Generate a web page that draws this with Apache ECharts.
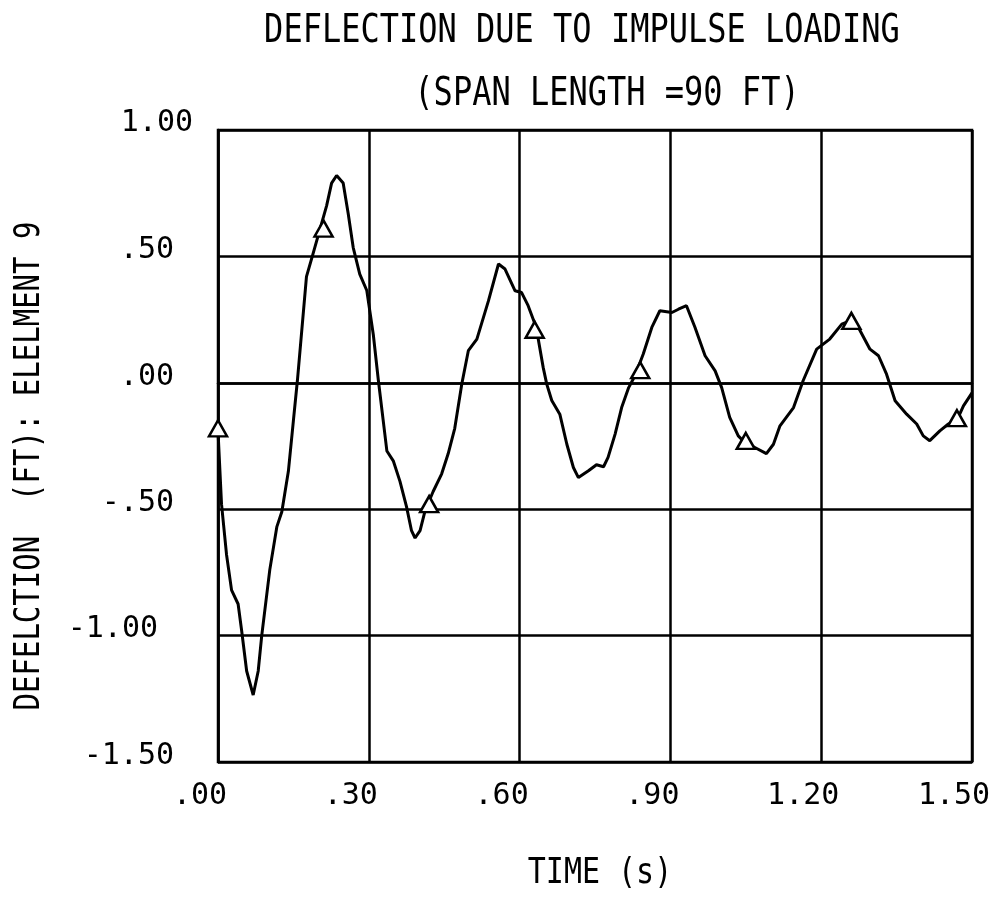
<!DOCTYPE html>
<html>
<head>
<meta charset="utf-8">
<script src="https://cdn.jsdelivr.net/npm/echarts@6/dist/echarts.min.js"></script>
<style>
  html, body { margin: 0; padding: 0; background: #ffffff; }
  #chart { width: 1005px; height: 901px; }
</style>
</head>
<body>
<div id="chart"></div>
<script>
// Mid-span deflection of element 9 after an impulse load (span 90 ft)
const timeS = [
  0.000, 0.007, 0.017, 0.027, 0.040, 0.047, 0.057, 0.070, 0.080, 0.087,
  0.103, 0.117, 0.127, 0.140, 0.150, 0.158, 0.176, 0.189, 0.216, 0.226,
  0.236, 0.249, 0.259, 0.269, 0.282, 0.296, 0.309, 0.319, 0.336, 0.349,
  0.362, 0.375, 0.385, 0.392, 0.402, 0.412, 0.428, 0.445, 0.458, 0.471,
  0.485, 0.498, 0.515, 0.538, 0.558, 0.571, 0.591, 0.604, 0.617, 0.633,
  0.647, 0.654, 0.664, 0.680, 0.694, 0.707, 0.717, 0.737, 0.753, 0.767,
  0.776, 0.790, 0.803, 0.817, 0.830, 0.846, 0.863, 0.879, 0.903, 0.916,
  0.932, 0.949, 0.969, 0.989, 1.002, 1.018, 1.035, 1.048, 1.068, 1.091,
  1.105, 1.118, 1.145, 1.164, 1.191, 1.217, 1.241, 1.257, 1.274, 1.297,
  1.314, 1.330, 1.347, 1.370, 1.390, 1.403, 1.416, 1.436, 1.453, 1.471,
  1.483, 1.500
];
const deflectionFt = [
  -0.19, -0.48, -0.68, -0.82, -0.875, -0.98, -1.14, -1.235, -1.14, -1.00,
  -0.74, -0.57, -0.51, -0.35, -0.15, 0.01, 0.42, 0.51, 0.70, 0.79,
  0.82, 0.79, 0.67, 0.535, 0.43, 0.365, 0.19, 0.01, -0.27, -0.31,
  -0.39, -0.49, -0.585, -0.614, -0.585, -0.506, -0.43, -0.36, -0.28, -0.18,
  -0.005, 0.127, 0.173, 0.324, 0.47, 0.45, 0.364, 0.357, 0.305, 0.22,
  0.06, -0.005, -0.07, -0.124, -0.243, -0.335, -0.375, -0.348, -0.324, -0.332,
  -0.295, -0.203, -0.098, -0.019, 0.03, 0.114, 0.219, 0.285, 0.278, 0.291,
  0.305, 0.219, 0.107, 0.047, -0.019, -0.137, -0.21, -0.236, -0.256, -0.28,
  -0.243, -0.17, -0.098, 0.008, 0.133, 0.173, 0.232, 0.245, 0.219, 0.133,
  0.107, 0.034, -0.071, -0.124, -0.163, -0.21, -0.229, -0.19, -0.163, -0.144,
  -0.091, -0.04
];
// Plot symbols placed every 0.21 s along the trace
const markerTime = [0.00, 0.21, 0.42, 0.63, 0.84, 1.05, 1.26, 1.47];
const markerDefl = [-0.18, 0.61, -0.48, 0.21, 0.05, -0.23, 0.245, -0.14];

const xTicks = { min: 0, max: 1.5, step: 0.3 };
const yTicks = { min: -1.5, max: 1.0, step: 0.5 };

const titleText = 'DEFLECTION DUE TO IMPULSE LOADING';
const subtitleText = '(SPAN LENGTH =90 FT)';
const xName = 'TIME (s)';
const yName = 'DEFELCTION  (FT): ELELMENT 9';

const FONT = '"DejaVu Sans Mono", "Liberation Mono", monospace';
const INK = '#000000';

// plotter-style numbers: no leading zero (".50", "-.50", "1.00")
function plotterNum(v) {
  return v.toFixed(2).replace(/^(-?)0\./, '$1.');
}

const linePoints = timeS.map((t, i) => [t, deflectionFt[i]]);
const markerPoints = markerTime.map((t, i) => [t, markerDefl[i]]);

const labelFont = { fontFamily: FONT, fontSize: 30, color: INK };

const chart = echarts.init(document.getElementById('chart'), null, { renderer: 'canvas' });

chart.setOption({
  backgroundColor: '#ffffff',
  animation: false,
  grid: {
    left: 218, right: 33, top: 130, bottom: 139,
    show: true, borderColor: INK, borderWidth: 2.5, backgroundColor: 'transparent'
  },
  xAxis: {
    type: 'value',
    min: xTicks.min, max: xTicks.max, interval: xTicks.step,
    axisLine: { show: true, lineStyle: { color: INK, width: 2.5 } },
    axisTick: { show: false },
    splitLine: { show: true, lineStyle: { color: INK, width: 2.5 } },
    axisLabel: Object.assign({}, labelFont, {
      margin: 19,
      padding: [0, 36, 0, 0],
      formatter: plotterNum
    })
  },
  yAxis: {
    type: 'value',
    min: yTicks.min, max: yTicks.max, interval: yTicks.step,
    axisLine: { show: true, lineStyle: { color: INK, width: 2.5 } },
    axisTick: { show: false },
    splitLine: { show: true, lineStyle: { color: INK, width: 2.5 } },
    axisLabel: Object.assign({}, labelFont, {
      margin: 25,
      formatter: function (v) {
        const key = v === 1 ? 'top' : (v === -1 ? 'far' : 'mid');
        return '{' + key + '|' + plotterNum(v) + '}';
      },
      rich: {
        top: Object.assign({}, labelFont, { padding: [0, 0, 14, 0] }),
        mid: Object.assign({}, labelFont, { padding: [0, 19, 12, 0] }),
        far: Object.assign({}, labelFont, { padding: [0, 35, 12, 0] })
      }
    })
  },
  graphic: [
    { type: 'text', x: 582, y: 32, scaleY: 1.2,
      style: { text: titleText, font: '32px ' + FONT, fill: INK,
               align: 'center', verticalAlign: 'middle' } },
    { type: 'text', x: 607, y: 95, scaleY: 1.2,
      style: { text: subtitleText, font: '32px ' + FONT, fill: INK,
               align: 'center', verticalAlign: 'middle' } },
    { type: 'text', x: 600, y: 874, scaleY: 1.2,
      style: { text: xName, font: '30px ' + FONT, fill: INK,
               align: 'center', verticalAlign: 'middle' } },
    { type: 'text', x: 30, y: 466, rotation: Math.PI / 2, scaleY: 1.2,
      style: { text: yName, font: '29px ' + FONT, fill: INK,
               align: 'center', verticalAlign: 'middle' } }
  ],
  series: [
    {
      type: 'line',
      data: linePoints,
      showSymbol: false,
      lineStyle: { color: INK, width: 3 },
      z: 3
    },
    {
      type: 'scatter',
      data: markerPoints,
      symbol: 'triangle',
      symbolSize: [18, 16],
      itemStyle: { color: '#ffffff', borderColor: INK, borderWidth: 2.5, opacity: 1 },
      z: 4
    }
  ]
});
</script>
</body>
</html>
